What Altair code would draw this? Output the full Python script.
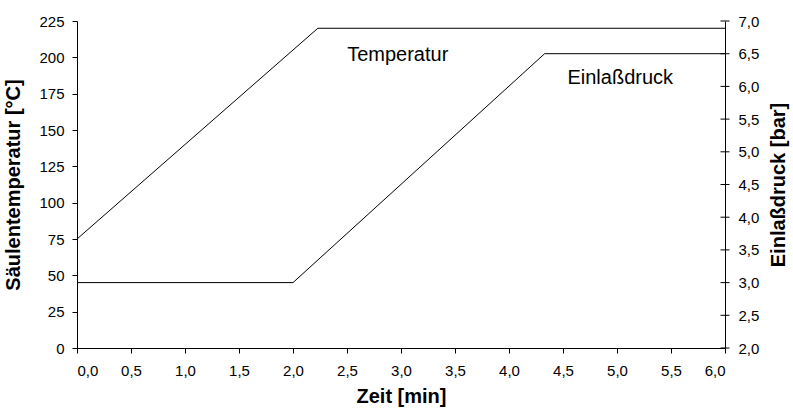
import altair as alt
import pandas as pd

# Data
temp_time = [0.0, 2.23, 6.0]
temp_values = [75, 220, 220]
pres_time = [0.0, 2.0, 4.33, 6.0]
pres_values = [3.0, 3.0, 6.5, 6.5]

label_texts = ["Temperatur", "Einlaßdruck"]
label_time = [2.97, 5.03]
label_temp = [201.5, 186]

x_ticks = [0, 0.5, 1.0, 1.5, 2.0, 2.5, 3.0, 3.5, 4.0, 4.5, 5.0, 5.5, 6.0]
temp_ticks = [0, 25, 50, 75, 100, 125, 150, 175, 200, 225]
pres_ticks = [2.0, 2.5, 3.0, 3.5, 4.0, 4.5, 5.0, 5.5, 6.0, 6.5, 7.0]
x_max = 6.0

FONT = "Liberation Sans"

temp_df = pd.DataFrame({"t": temp_time, "temp": temp_values})
pres_df = pd.DataFrame({"t": pres_time, "p": pres_values})
lab_df = pd.DataFrame({"t": label_time, "temp": label_temp, "txt": label_texts})
ptick_df = pd.DataFrame({"t": [x_max] * len(pres_ticks), "p": pres_ticks})

comma = "replace(format(datum.value, '.1f'), '.', ',')"

x_enc = alt.X(
    "t:Q",
    scale=alt.Scale(domain=[0, x_max], nice=False, zero=False),
    axis=alt.Axis(
        title="Zeit [min]", values=x_ticks, labelExpr=comma,
        labelPadding=10, titlePadding=8,
    ),
)

temp_y = alt.Y(
    "temp:Q",
    scale=alt.Scale(domain=[0, 225], nice=False),
    axis=alt.Axis(title="Säulentemperatur [°C]", values=temp_ticks, orient="left",
                  labelPadding=8, titlePadding=15),
)

pres_y = alt.Y(
    "p:Q",
    scale=alt.Scale(domain=[2, 7], nice=False, zero=False),
    axis=alt.Axis(title="Einlaßdruck [bar]", values=pres_ticks, orient="right",
                  labelExpr=comma, labelPadding=13, titlePadding=10,
                  ticks=False, titleAngle=270, titleBaseline="top"),
)

temp_line = alt.Chart(temp_df).mark_line(color="black", strokeWidth=1).encode(
    x=x_enc, y=temp_y
)

labels = alt.Chart(lab_df).mark_text(
    font=FONT, fontSize=20, color="black", baseline="middle", align="center"
).encode(
    x=x_enc,
    y=temp_y,
    text="txt:N",
)

pres_line = alt.Chart(pres_df).mark_line(color="black", strokeWidth=1).encode(
    x=x_enc,
    y=pres_y,
)

# ticks of the right axis that cross the axis line, as in the reference
pres_ticks_marks = alt.Chart(ptick_df).mark_tick(
    orient="horizontal", size=9, thickness=1, color="black", opacity=1
).encode(x=x_enc, y=pres_y)

chart = (
    alt.layer(alt.layer(temp_line, labels), alt.layer(pres_line, pres_ticks_marks))
    .resolve_scale(y="independent")
    .properties(
        width=648,
        height=327,
        autosize=alt.AutoSizeParams(type="none"),
        padding={"left": 77, "top": 21, "right": 68, "bottom": 62},
        background="white",
    )
    .configure_view(stroke=None)
    .configure_axis(
        grid=False,
        domainColor="black",
        tickColor="black",
        tickSize=5,
        labelFont=FONT,
        labelFontSize=15,
        labelColor="black",
        titleFont=FONT,
        titleFontSize=20,
        titleFontWeight="bold",
        titleColor="black",
    )
)

chart.save("out.html", embed_options={"renderer": "svg", "actions": False})
